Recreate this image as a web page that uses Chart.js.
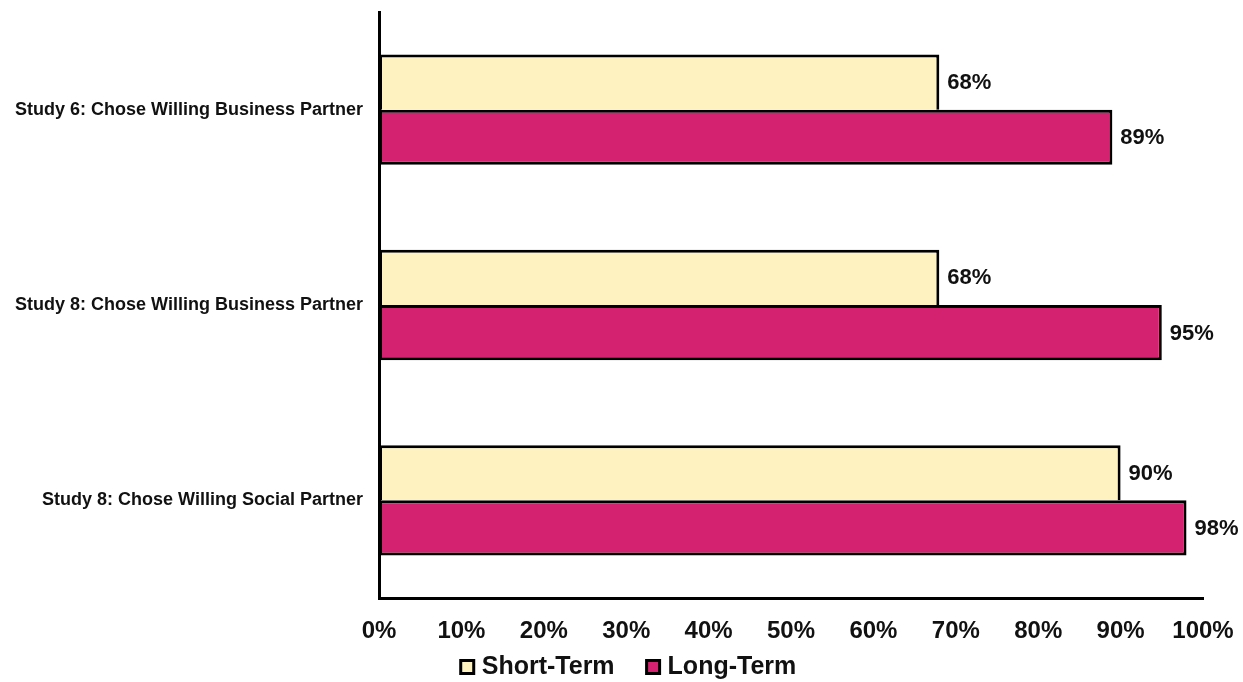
<!DOCTYPE html>
<html>
<head>
<meta charset="utf-8">
<script src="https://cdn.jsdelivr.net/npm/chart.js@4/dist/chart.umd.min.js"></script>
<style>
  html, body { margin: 0; padding: 0; background: #fff; }
</style>
</head>
<body>
<canvas id="partnerChart" width="1243" height="682"></canvas>
<script>
// categories and share choosing the willing partner
var studies = [
    "Study 6: Chose Willing Business Partner",
    "Study 8: Chose Willing Business Partner",
    "Study 8: Chose Willing Social Partner"
];
var shortTerm = [68, 68, 90];
var longTerm  = [89, 95, 98];
var percentTicks = [0, 10, 20, 30, 40, 50, 60, 70, 80, 90, 100];

var FONT = "'Liberation Sans', Arial, sans-serif";

// writes the value to the right of each bar
var barValueLabels = {
    id: 'barValueLabels',
    afterDatasetsDraw: function(chart) {
        var ctx = chart.ctx;
        ctx.save();
        ctx.font = 'bold 22px ' + FONT;
        ctx.fillStyle = '#111';
        ctx.textAlign = 'left';
        ctx.textBaseline = 'middle';
        chart.data.datasets.forEach(function(ds, di) {
            chart.getDatasetMeta(di).data.forEach(function(bar, i) {
                ctx.fillText(ds.data[i] + '%', bar.x + 8, bar.y + 1);
            });
        });
        ctx.restore();
    }
};

// legend row under the axis: small outlined squares + bold names
var bottomLegend = {
    id: 'bottomLegend',
    afterDraw: function(chart) {
        var ctx = chart.ctx;
        var box = 13, gap = 8, itemGap = 32;
        ctx.save();
        ctx.font = 'bold 25px ' + FONT;
        ctx.textBaseline = 'middle';
        ctx.textAlign = 'left';
        var items = chart.data.datasets.map(function(ds) {
            return { ds: ds, w: ctx.measureText(ds.label).width };
        });
        var total = 0;
        items.forEach(function(it, i) {
            total += box + gap + it.w + (i < items.length - 1 ? itemGap : 0);
        });
        var x = chart.width / 2 + 7 - total / 2;
        var y = 667;
        items.forEach(function(it) {
            ctx.fillStyle = it.ds.backgroundColor;
            ctx.fillRect(x, y - box / 2, box, box);
            ctx.lineWidth = 3;
            ctx.strokeStyle = '#000';
            ctx.strokeRect(x, y - box / 2, box, box);
            ctx.fillStyle = '#111';
            ctx.fillText(it.ds.label, x + box + gap, y);
            x += box + gap + it.w + itemGap;
        });
        ctx.restore();
    }
};

var ctx = document.getElementById("partnerChart");
var partnerChart = new Chart(ctx, {
    type: 'bar',
    plugins: [barValueLabels, bottomLegend],
    data: {
        labels: studies,
        datasets: [
            {
                label: 'Short-Term',
                data: shortTerm,
                backgroundColor: '#fdf2c0',
                borderColor: '#000',
                borderWidth: 3,
                // the long-term bar below supplies the shared edge
                borderSkipped: 'bottom'
            },
            {
                label: 'Long-Term',
                data: longTerm,
                backgroundColor: '#d52270',
                borderColor: '#000',
                borderWidth: 3,
                borderSkipped: false
            }
        ]
    },
    options: {
        indexAxis: 'y',
        responsive: false,
        animation: false,
        layout: {
            padding: { top: 12, right: 40, left: 0, bottom: 42 }
        },
        datasets: {
            bar: { categoryPercentage: 0.565, barPercentage: 1.0 }
        },
        scales: {
            x: {
                min: 0,
                max: 100,
                afterBuildTicks: function(scale) {
                    scale.ticks = percentTicks.map(function(v) { return { value: v }; });
                },
                grid: { display: false, drawTicks: false },
                border: { display: true, color: '#000', width: 3 },
                ticks: {
                    padding: 19,
                    maxRotation: 0,
                    color: '#111',
                    font: { family: FONT, size: 24, weight: 'bold' },
                    callback: function(v) { return v + '%'; }
                },
                afterFit: function(scale) {
                    scale.height = 42;
                    scale.paddingLeft = 0;
                    scale.paddingRight = 0;
                }
            },
            y: {
                grid: { display: false, drawTicks: false },
                border: { display: true, color: '#000', width: 3 },
                ticks: {
                    padding: 16,
                    color: '#111',
                    font: { family: FONT, size: 18, weight: 'bold' }
                },
                afterFit: function(scale) {
                    scale.width = 379;
                    scale.paddingTop = 0;
                    scale.paddingBottom = 0;
                }
            }
        },
        plugins: {
            tooltip: { enabled: false },
            legend: { display: false }
        }
    }
});
</script>
</body>
</html>
